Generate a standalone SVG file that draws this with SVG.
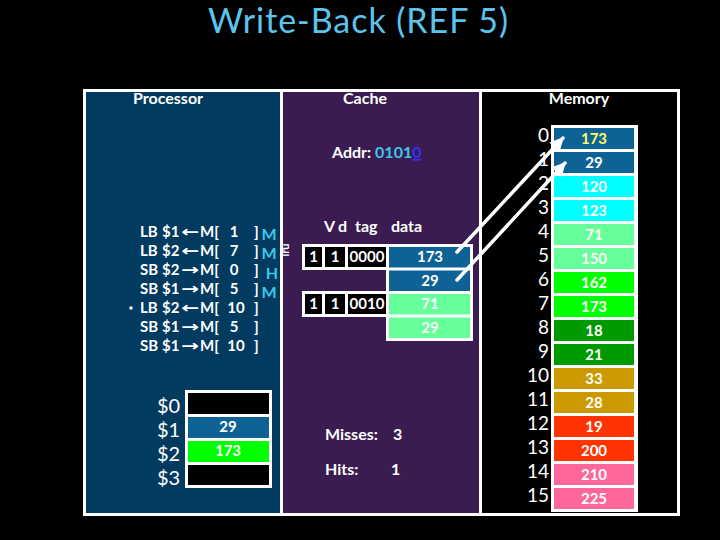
<svg xmlns="http://www.w3.org/2000/svg" width="720" height="540" viewBox="0 0 720 540">
<defs>
<style>
text{font-family:Lato,"Open Sans","DejaVu Sans",sans-serif;fill:#fff}
.lbl{font-size:16px;font-weight:bold}
.ins{font-size:15px;font-weight:bold}
.st{font-size:16px;font-weight:bold;fill:#3CC8E8}
.cell{font-size:15px;font-weight:bold;text-anchor:middle}
.num{font-size:19px;text-anchor:end}
.reg{font-size:20px}
.arr{font-family:"DejaVu Sans",sans-serif;font-size:15px;font-weight:bold}
.blk{fill:#000}
.blue{fill:#0F6296}
</style>
<marker id="ah" viewBox="0 0 10 10" refX="9" refY="5" markerWidth="14" markerHeight="14" markerUnits="userSpaceOnUse" orient="auto">
<path d="M0,0 L10,5 L0,10 z" fill="#fff"/>
</marker>
</defs>
<rect width="720" height="540" fill="#000"/>
<text x="358" y="33" text-anchor="middle" font-size="34" textLength="300" style="fill:#5BC4EE">Write-Back (REF 5)</text>

<g id="panels">
<rect x="84" y="90" width="197" height="425" fill="#033A60"/>
<rect x="281" y="90" width="199" height="425" fill="#3A1C50"/>
<line x1="281.5" y1="90" x2="281.5" y2="515" stroke="#fff" stroke-width="3"/>
<line x1="480.5" y1="90" x2="480.5" y2="515" stroke="#fff" stroke-width="3"/>
<rect x="84.5" y="90.5" width="594" height="424" fill="none" stroke="#fff" stroke-width="3"/>
<text class="lbl" x="133" y="104">Processor</text>
<text class="lbl" x="365" y="104" text-anchor="middle">Cache</text>
<text class="lbl" x="579" y="104" text-anchor="middle">Memory</text>
</g>

<g id="instructions">
<circle cx="131" cy="308" r="1.8" fill="#fff"/>
<g class="ins">
<text x="140" y="237">LB</text><text x="162" y="237">$1</text><text class="arr" x="181" y="237" textLength="18" lengthAdjust="spacingAndGlyphs">←</text><text x="200" y="237">M[</text><text x="234" y="237" text-anchor="middle">1</text><text x="254" y="237">]</text>
<text x="140" y="256">LB</text><text x="162" y="256">$2</text><text class="arr" x="181" y="256" textLength="18" lengthAdjust="spacingAndGlyphs">←</text><text x="200" y="256">M[</text><text x="234" y="256" text-anchor="middle">7</text><text x="254" y="256">]</text>
<text x="140" y="275">SB</text><text x="162" y="275">$2</text><text class="arr" x="181" y="275" textLength="18" lengthAdjust="spacingAndGlyphs">→</text><text x="200" y="275">M[</text><text x="234" y="275" text-anchor="middle">0</text><text x="254" y="275">]</text>
<text x="140" y="294">SB</text><text x="162" y="294">$1</text><text class="arr" x="181" y="294" textLength="18" lengthAdjust="spacingAndGlyphs">→</text><text x="200" y="294">M[</text><text x="234" y="294" text-anchor="middle">5</text><text x="254" y="294">]</text>
<text x="140" y="313">LB</text><text x="162" y="313">$2</text><text class="arr" x="181" y="313" textLength="18" lengthAdjust="spacingAndGlyphs">←</text><text x="200" y="313">M[</text><text x="236" y="313" text-anchor="middle">10</text><text x="254" y="313">]</text>
<text x="140" y="332">SB</text><text x="162" y="332">$1</text><text class="arr" x="181" y="332" textLength="18" lengthAdjust="spacingAndGlyphs">→</text><text x="200" y="332">M[</text><text x="234" y="332" text-anchor="middle">5</text><text x="254" y="332">]</text>
<text x="140" y="351">SB</text><text x="162" y="351">$1</text><text class="arr" x="181" y="351" textLength="18" lengthAdjust="spacingAndGlyphs">→</text><text x="200" y="351">M[</text><text x="236" y="351" text-anchor="middle">10</text><text x="254" y="351">]</text>
</g>
<text class="st" x="269" y="240" text-anchor="middle">M</text>
<text class="st" x="269" y="259" text-anchor="middle">M</text>
<text class="st" x="272" y="279" text-anchor="middle">H</text>
<text class="st" x="269" y="298" text-anchor="middle">M</text>
</g>

<g id="registers">
<rect x="185" y="390" width="87" height="98" fill="#fff"/>
<rect class="blk" x="188" y="393" width="81" height="21"/>
<rect class="blue" x="188" y="417" width="81" height="21"/>
<rect x="188" y="441" width="81" height="21" fill="#00FF00"/>
<rect class="blk" x="188" y="465" width="81" height="20"/>
<text class="cell" x="228" y="432">29</text>
<text class="cell" x="228" y="456">173</text>
<text class="reg" x="157" y="413">$0</text>
<text class="reg" x="157" y="437">$1</text>
<text class="reg" x="157" y="461">$2</text>
<text class="reg" x="157" y="485">$3</text>
</g>

<g id="cache">
<text class="lbl" x="332" y="158" font-size="17">Addr: <tspan style="fill:#3CC8E8">0101</tspan><tspan style="fill:#3333FF" text-decoration="underline">0</tspan></text>
<text x="289" y="250" font-size="11" font-weight="bold" text-anchor="middle" transform="rotate(-90 289 250)">lru</text>
<text class="lbl" x="324" y="232">V</text>
<text class="lbl" x="338" y="232">d</text>
<text class="lbl" x="355" y="232">tag</text>
<text class="lbl" x="391" y="232">data</text>
<rect x="302" y="244" width="88" height="26" fill="#fff"/>
<rect x="302" y="291" width="88" height="26" fill="#fff"/>
<rect x="386" y="244" width="87" height="97" fill="#fff"/>
<rect class="blk" x="305" y="247" width="17" height="20"/>
<rect class="blk" x="325" y="247" width="20" height="20"/>
<rect class="blk" x="348" y="247" width="38" height="20"/>
<rect class="blk" x="305" y="294" width="17" height="20"/>
<rect class="blk" x="325" y="294" width="20" height="20"/>
<rect class="blk" x="348" y="294" width="38" height="20"/>
<rect class="blue" x="389" y="247" width="81" height="20.5"/>
<rect class="blue" x="389" y="270.5" width="81" height="20.5"/>
<rect x="389" y="294" width="81" height="20.5" fill="#66FF99"/>
<rect x="389" y="317.5" width="81" height="20.5" fill="#66FF99"/>
<text class="cell" x="313.5" y="262">1</text>
<text class="cell" x="335" y="262">1</text>
<text class="cell" x="367" y="262" font-size="13">0000</text>
<text class="cell" x="313.5" y="309">1</text>
<text class="cell" x="335" y="309">1</text>
<text class="cell" x="367" y="309" font-size="13">0010</text>
<text class="cell" x="430" y="262">173</text>
<text class="cell" x="430" y="285.5">29</text>
<text class="cell" x="430" y="309">71</text>
<text class="cell" x="430" y="332.5">29</text>
<text class="lbl" x="325" y="440">Misses:</text><text class="lbl" x="393" y="440">3</text>
<text class="lbl" x="325" y="475">Hits:</text><text class="lbl" x="391" y="475">1</text>
</g>

<g id="memory">
<rect x="551" y="125" width="87" height="387" fill="#fff"/>
<rect class="blue" x="554" y="128" width="80" height="21"/>
<rect class="blue" x="554" y="152" width="80" height="21"/>
<rect x="554" y="176" width="80" height="21" fill="#00FFFF"/>
<rect x="554" y="200" width="80" height="21" fill="#00FFFF"/>
<rect x="554" y="224" width="80" height="21" fill="#66FF99"/>
<rect x="554" y="248" width="80" height="21" fill="#66FF99"/>
<rect x="554" y="272" width="80" height="21" fill="#00FF00"/>
<rect x="554" y="296" width="80" height="21" fill="#00FF00"/>
<rect x="554" y="320" width="80" height="21" fill="#009900"/>
<rect x="554" y="344" width="80" height="21" fill="#009900"/>
<rect x="554" y="368" width="80" height="21" fill="#CC9900"/>
<rect x="554" y="392" width="80" height="21" fill="#CC9900"/>
<rect x="554" y="416" width="80" height="21" fill="#FF3300"/>
<rect x="554" y="440" width="80" height="21" fill="#FF3300"/>
<rect x="554" y="464" width="80" height="21" fill="#FF6699"/>
<rect x="554" y="488" width="80" height="21" fill="#FF6699"/>
<text class="cell" x="594" y="144" style="fill:#FFFF66">173</text>
<text class="cell" x="594" y="168">29</text>
<text class="cell" x="594" y="192">120</text>
<text class="cell" x="594" y="216">123</text>
<text class="cell" x="594" y="240">71</text>
<text class="cell" x="594" y="264">150</text>
<text class="cell" x="594" y="288">162</text>
<text class="cell" x="594" y="312">173</text>
<text class="cell" x="594" y="336">18</text>
<text class="cell" x="594" y="360">21</text>
<text class="cell" x="594" y="384">33</text>
<text class="cell" x="594" y="408">28</text>
<text class="cell" x="594" y="432">19</text>
<text class="cell" x="594" y="456">200</text>
<text class="cell" x="594" y="480">210</text>
<text class="cell" x="594" y="504">225</text>
<text class="num" x="549" y="142">0</text>
<text class="num" x="549" y="166">1</text>
<text class="num" x="549" y="190">2</text>
<text class="num" x="549" y="214">3</text>
<text class="num" x="549" y="238">4</text>
<text class="num" x="549" y="262">5</text>
<text class="num" x="549" y="286">6</text>
<text class="num" x="549" y="310">7</text>
<text class="num" x="549" y="334">8</text>
<text class="num" x="549" y="358">9</text>
<text class="num" x="549" y="382">10</text>
<text class="num" x="549" y="406">11</text>
<text class="num" x="549" y="430">12</text>
<text class="num" x="549" y="454">13</text>
<text class="num" x="549" y="478">14</text>
<text class="num" x="549" y="502">15</text>
</g>

<g id="connectors" stroke="#fff" stroke-width="3.5" stroke-linecap="round" fill="none">
<line x1="457" y1="252" x2="563" y2="138" marker-end="url(#ah)"/>
<line x1="457" y1="280" x2="565" y2="163" marker-end="url(#ah)"/>
</g>
</svg>
